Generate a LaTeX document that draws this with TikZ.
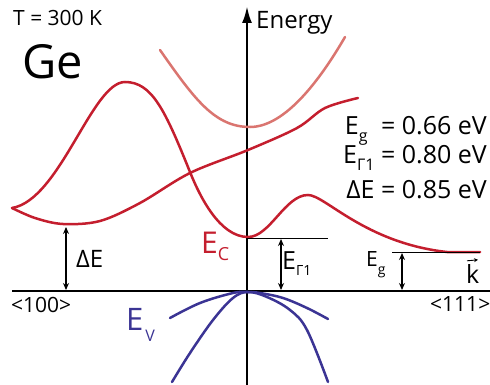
\documentclass[tikz,border=0pt]{standalone}
\usepackage{fontspec}
\setmainfont{Open Sans}
\usetikzlibrary{arrows.meta}
\definecolor{cred}{HTML}{C41E2E}
\definecolor{lred}{HTML}{DA7570}
\definecolor{cblue}{HTML}{3B3494}
\newcommand\fs[1]{\fontsize{#1}{#1}\selectfont}
\begin{document}
\begin{tikzpicture}[x=1pt,y=-1pt,
  axis/.style={line width=2.6pt,black},
  band/.style={line width=2.5pt,cred,line cap=round},
  lband/.style={line width=2.5pt,lred,line cap=round},
  vband/.style={line width=2.5pt,cblue,line cap=round},
  thin/.style={line width=1pt,black},
  dbl/.style={line width=1.2pt,black,{Stealth[length=7pt,width=6pt]}-{Stealth[length=7pt,width=6pt]}},
  lbl/.style={inner sep=0pt,anchor=base west}]
\useasboundingbox (0,0) rectangle (490,385);
% axes
\draw[axis] (12,291) -- (490,291);
\draw[axis,-{Latex[length=17pt,width=10pt]}] (247,385) -- (247,6);
% conduction bands
\draw[lband] (160,50) .. controls (195,100) and (215,127) .. (250,127)
  .. controls (285,127) and (320,80) .. (345,37);
\draw[band] (12,208) .. controls (60,200) and (92,82) .. (125,82)
  .. controls (152,82) and (165,110) .. (190,172)
  .. controls (200,197) and (220,237) .. (248,237)
  .. controls (270,237) and (285,195) .. (308,195)
  .. controls (325,195) and (365,243) .. (447,252) -- (480,252);
\draw[band] plot[smooth,tension=0.55] coordinates {(12,208) (35,218) (63,224) (100,221) (140,203) (190,173) (248,150) (297,128) (325,108) (358,98)};
% valence bands
\draw[vband] plot[smooth,tension=0.6] coordinates {(170,318) (200,303) (233,293) (248,292) (260,293) (283,298) (307,308) (328,319)};
\draw[vband] plot[smooth,tension=0.6] coordinates {(172,382) (190,353) (213,320) (233,298) (248,292) (267,297) (290,310) (307,330) (328,382)};
% reference lines and arrows
\coordinate (g1a) at (247,238); \coordinate (g1b) at (328,238);
\draw[thin] (g1a) -- (g1b);
\coordinate (ega) at (392,252); \coordinate (egb) at (480,252);
\draw[thin] (ega) -- (egb);
\coordinate (dEt) at (66,227); \coordinate (dEb) at (66,290);
\draw[dbl] (dEt) -- (dEb);
\coordinate (G1t) at (281,239); \coordinate (G1b) at (281,290);
\draw[dbl] (G1t) -- (G1b);
\coordinate (Egt) at (402,253); \coordinate (Egb) at (402,290);
\draw[dbl] (Egt) -- (Egb);
% texts
\node[lbl] (T) at (13,26) {\fs{21}T = 300 K};
\node[lbl] (Ge) at (22,79) {\fs{47}Ge};
\node[lbl] (en) at (256,29) {\fs{24}Energy};
\node[lbl] (l100) at (11,312) {\fs{21}<100>};
\node[lbl] (l111) at (430,311) {\fs{21}<111>};
\node[lbl] (k) at (466,283) {\fs{25}k};
\draw[line width=0.9pt,-{Stealth[length=4pt,width=4pt]}] (k.north west)++(1,-3) -- ++(11,-1);
\node[lbl] (dE) at (76,267) {\fs{24}ΔE};
\node[lbl,text=cred] (EC) at (201,253) {\fs{30}E\raisebox{-7pt}{\fs{18}C}};
\node[lbl,text=cblue] (EV) at (126,330) {\fs{31}E\hspace{2pt}\raisebox{-11pt}{\fs{16}V}};
\node[lbl] (EG1) at (282,269) {\fs{25}E\raisebox{-6pt}{\fs{14}Γ1}};
\node[lbl] (Eg) at (366,266) {\fs{21}E\raisebox{-8pt}{\fs{14}g}};
\node[inner sep=0pt,anchor=base east] (v1) at (487,135) {\fs{25}E\raisebox{-7pt}{\fs{16}g}\hspace{7pt} = 0.66 eV};
\node[inner sep=0pt,anchor=base east] (v2) at (487,164) {\fs{25}E\raisebox{-7pt}{\fs{16}Γ1} = 0.80 eV};
\node[inner sep=0pt,anchor=base east] (v3) at (487,198) {\fs{25}ΔE = 0.85 eV};
\end{tikzpicture}
\end{document}
